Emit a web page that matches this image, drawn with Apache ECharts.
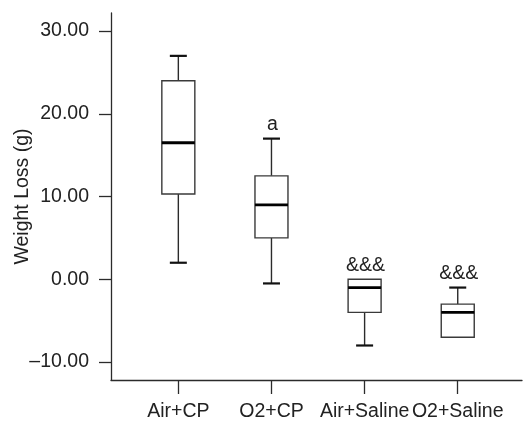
<!DOCTYPE html>
<html>
<head>
<meta charset="utf-8">
<script src="https://cdn.jsdelivr.net/npm/echarts@6/dist/echarts.min.js"></script>
<style>html,body{margin:0;padding:0;background:#fff}#c{width:523px;height:422px}</style>
</head>
<body>
<div id="c"></div>
<script>
const categories = ['Air+CP', 'O2+CP', 'Air+Saline', 'O2+Saline'];
const whiskerLow = [2, -0.5, -8, -7];
const quartile1 = [10.3, 5, -4, -7];
const medians = [16.5, 9, -1, -4];
const quartile3 = [24, 12.5, 0, -3];
const whiskerHigh = [27, 17, 0, -1];
const annotations = ['', 'a', '&&&', '&&&'];
const yTicks = [-10, 0, 10, 20, 30];
const xTicks = [1, 2, 3, 4];

const FONT = '"Liberation Sans", Arial, Helvetica, sans-serif';
const TXT = '#222';
const LINE = '#2b2b2b';

const boxData = categories.map((c, i) => [i + 1, whiskerLow[i], quartile1[i], medians[i], quartile3[i], whiskerHigh[i], i]);

function fmtY(v) {
  return v < 0 ? '\u2013' + Math.abs(v).toFixed(2) : v.toFixed(2);
}

const chart = echarts.init(document.getElementById('c'), null, {renderer: 'canvas'});
chart.setOption({
  animation: false,
  backgroundColor: '#fff',
  grid: {left: 111, right: 1, top: 13, bottom: 42, containLabel: false, outerBoundsMode: 'none'},
  xAxis: {
    type: 'value',
    min: 0.277,
    max: 4.69,
    splitLine: {show: false},
    axisLine: {show: true, onZero: false, lineStyle: {color: LINE, width: 1.3}},
    axisTick: {show: true, customValues: xTicks, length: 14, lineStyle: {color: LINE, width: 1.3}},
    axisLabel: {
      customValues: xTicks,
      margin: 22,
      color: TXT, fontSize: 19.5, fontFamily: FONT,
      formatter: v => categories[Math.round(v) - 1]
    }
  },
  yAxis: {
    type: 'value',
    min: -12.17,
    max: 32.18,
    splitLine: {show: false},
    name: 'Weight Loss (g)',
    nameLocation: 'middle',
    nameGap: 78,
    nameRotate: 90,
    nameMoveOverlap: false,
    nameTextStyle: {color: TXT, fontSize: 19.5, fontFamily: FONT},
    axisLine: {show: true, onZero: false, lineStyle: {color: LINE, width: 1.3}},
    axisTick: {show: true, customValues: yTicks, length: 12, lineStyle: {color: LINE, width: 1.3}},
    axisLabel: {
      customValues: yTicks,
      margin: 22,
      color: TXT, fontSize: 19.5, fontFamily: FONT,
      formatter: fmtY
    }
  },
  series: [{
    type: 'custom',
    data: boxData,
    encode: {x: 0, y: [1, 2, 3, 4, 5]},
    clip: false,
    renderItem: function (params, api) {
      const x = api.value(0);
      const pt = k => api.coord([x, api.value(k)]);
      const lo = pt(1), q1 = pt(2), md = pt(3), q3 = pt(4), hi = pt(5);
      const cx = lo[0];
      const hw = 16.5, cw = 8.5;
      const children = [];
      const lineStyle = {stroke: LINE, lineWidth: 1.4};
      const capStyle = {stroke: '#111', lineWidth: 2.2};
      if (api.value(5) > api.value(4)) {
        children.push({type: 'line', shape: {x1: cx, y1: q3[1], x2: cx, y2: hi[1]}, style: lineStyle});
        children.push({type: 'line', shape: {x1: cx - cw, y1: hi[1], x2: cx + cw, y2: hi[1]}, style: capStyle});
      }
      if (api.value(1) < api.value(2)) {
        children.push({type: 'line', shape: {x1: cx, y1: q1[1], x2: cx, y2: lo[1]}, style: lineStyle});
        children.push({type: 'line', shape: {x1: cx - cw, y1: lo[1], x2: cx + cw, y2: lo[1]}, style: capStyle});
      }
      children.push({type: 'rect', shape: {x: cx - hw, y: q3[1], width: 2 * hw, height: q1[1] - q3[1]},
        style: {fill: '#fff', stroke: '#3a3a3a', lineWidth: 1.4}});
      children.push({type: 'line', shape: {x1: cx - hw, y1: md[1], x2: cx + hw, y2: md[1]},
        style: {stroke: '#000', lineWidth: 2.8}});
      const note = annotations[api.value(6)];
      if (note) {
        children.push({type: 'text', style: {
          text: note, x: cx + 1, y: hi[1] - 4,
          align: 'center', verticalAlign: 'bottom',
          fill: TXT, fontSize: 19.5, fontFamily: FONT
        }});
      }
      return {type: 'group', children: children};
    }
  }]
});
</script>
</body>
</html>
